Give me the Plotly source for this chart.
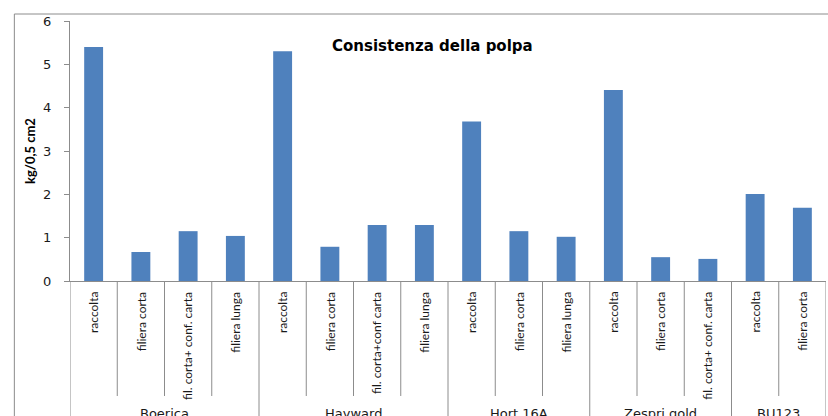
import plotly.graph_objects as go

# Firmness of the flesh by cultivar and handling chain
groups = ["Boerica", "Hayward", "Hort 16A", "Zespri gold", "BU123"]
treatments = [
    ["raccolta", "filiera corta", "fil. corta+ conf. carta", "filiera lunga"],
    ["raccolta", "filiera corta", "fil. corta+conf carta", "filiera lunga"],
    ["raccolta", "filiera corta", "filiera lunga"],
    ["raccolta", "filiera corta", "fil. corta+ conf. carta"],
    ["raccolta", "filiera corta"],
]
values = [
    [5.40, 0.67, 1.15, 1.04],
    [5.30, 0.79, 1.29, 1.29],
    [3.68, 1.15, 1.02],
    [4.41, 0.55, 0.51],
    [2.01, 1.69],
]
y_ticks = [0, 1, 2, 3, 4, 5, 6]

BAR = "#4F81BD"
AXIS = "#8C8C8C"
FONT = "'DejaVu Sans', sans-serif"
NARROW = "Lato, sans-serif"

labels = [t for grp in treatments for t in grp]
vals = [v for grp in values for v in grp]
idx = list(range(len(vals)))

fig = go.Figure(go.Bar(x=idx, y=vals, marker=dict(color=BAR, line=dict(width=0)),
                       width=0.4, hoverinfo="y"))

shapes = []
annotations = []

# outer chart frame (top and left edges)
shapes.append(dict(type="line", xref="paper", yref="paper", x0=-0.0736, x1=1.01,
                   y0=1.0269, y1=1.0269, line=dict(color=AXIS, width=1)))
shapes.append(dict(type="line", xref="paper", yref="paper", x0=-0.0736, x1=-0.0736,
                   y0=1.0269, y1=-0.6, line=dict(color=AXIS, width=1)))

# category dividers below the axis
group_starts = []
pos = 0
for grp in treatments:
    group_starts.append(pos)
    pos += len(grp)
n = len(vals)
for b in range(n + 1):
    is_group = b in group_starts or b == n
    y1 = -0.6 if is_group else -0.4423
    shapes.append(dict(type="line", xref="x", yref="paper", x0=b - 0.5, x1=b - 0.5,
                       y0=0, y1=y1, line=dict(color=AXIS, width=1)))

# treatment labels (rotated) and cultivar labels
for i, lab in enumerate(labels):
    annotations.append(dict(x=i, y=-0.034, xref="x", yref="paper", text=lab,
                            textangle=-90, showarrow=False, xanchor="center",
                            yanchor="top", font=dict(family=NARROW, size=12, color="#1a1a1a")))
for g, start in zip(groups, group_starts):
    k = len(treatments[groups.index(g)])
    annotations.append(dict(x=start + (k - 1) / 2, y=-0.472, xref="x", yref="paper",
                            text=g, showarrow=False, xanchor="center", yanchor="top",
                            font=dict(family=FONT, size=13, color="#1a1a1a")))

# chart title inside the plot area
annotations.append(dict(x=0.48, y=0.905, xref="paper", yref="paper",
                        text="<b>Consistenza della polpa</b>", showarrow=False,
                        xanchor="center", yanchor="middle",
                        font=dict(family=FONT, size=15, color="#000000")))

fig.update_layout(
    width=828, height=416,
    margin=dict(l=70, r=2, t=21, b=135),
    paper_bgcolor="white", plot_bgcolor="white",
    showlegend=False,
    shapes=shapes, annotations=annotations,
    xaxis=dict(range=[-0.5, n - 0.5], showticklabels=False, ticks="",
               showgrid=False, zeroline=False, showline=True, linecolor=AXIS,
               linewidth=1, fixedrange=True),
    yaxis=dict(range=[0, 6], tickvals=y_ticks, ticks="outside", ticklen=5,
               tickcolor=AXIS, showgrid=False, zeroline=False, showline=True,
               linecolor=AXIS, linewidth=1, tickfont=dict(family=FONT, size=13, color="#1a1a1a"),
               ticklabelstandoff=10,
               title=dict(text="<b>kg/0,5 cm2</b>", standoff=4,
                          font=dict(family="Lato, sans-serif", size=13, color="#000000")),
               fixedrange=True),
)

fig.write_html("out.html")
